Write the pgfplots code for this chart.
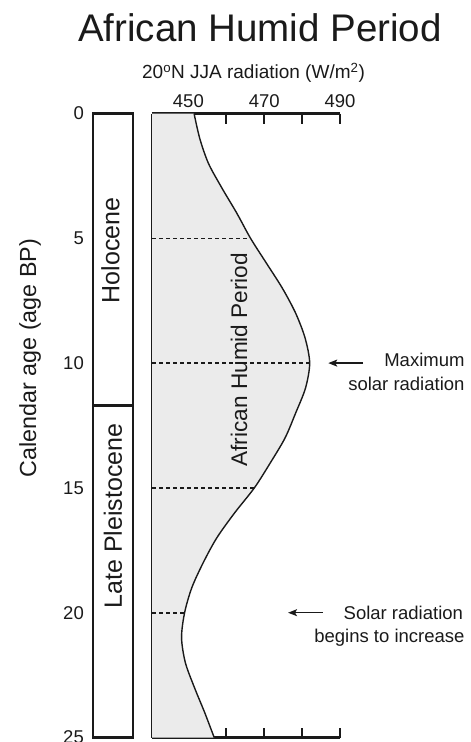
\documentclass[border=0pt]{standalone}
\usepackage{pgfplots}
\pgfplotsset{compat=1.18}
\usetikzlibrary{arrows.meta}
\usepackage{fontspec}
\setmainfont{Liberation Sans}
\definecolor{fillgray}{HTML}{EBEBEB}
\definecolor{ink}{HTML}{1A1A1A}

\begin{document}
\begin{tikzpicture}[x=1pt,y=1pt]
% stratigraphic column
\begin{axis}[
  at={(93pt,4.5pt)}, anchor=south west,
  width=40pt, height=624pt, scale only axis,
  xmin=0, xmax=1, ymin=0, ymax=25, y dir=reverse,
  axis line style={line width=2.3pt, ink},
  xtick=\empty, ytick={0,5,10,15,20,25},
  yticklabels={0,5,10,15,20,25},
  major tick length=0pt,
  yticklabel style={font=\fontsize{18.5}{20}\selectfont, anchor=east, inner sep=0pt, xshift=-9pt, text=ink},
  ylabel={Calendar age (age BP)},
  ylabel style={font=\fontsize{23.3}{26}\selectfont, at={(axis description cs:-1.575,0.608)}, anchor=center, text=ink},
  clip=false,
]
\addplot[line width=2.3pt, ink] coordinates {(0,11.7) (1,11.7)};
\node[rotate=90, anchor=base, inner sep=0pt, font=\fontsize{25}{28}\selectfont, text=ink] at (axis cs:0.66,5.49) {Holocene};
\node[rotate=90, anchor=base, inner sep=0pt, font=\fontsize{25}{28}\selectfont, text=ink] at (axis cs:0.72,16.12) {Late Pleistocene};
\end{axis}

% radiation panel
\begin{axis}[
  at={(152pt,4.5pt)}, anchor=south west,
  width=188pt, height=624pt, scale only axis,
  xmin=440.4, xmax=490, ymin=0, ymax=25, y dir=reverse,
  axis x line*=box, axis y line*=left,
  axis line style={line width=2.3pt, ink},
  xtick={450,460,470,480,490}, xticklabels={450,,470,,490},
  xtick pos=both, xticklabel pos=upper,
  ytick=\empty, minor ytick={1,...,24},
  tick align=inside,
  major tick length=10pt, minor tick length=7pt,
  every tick/.style={line width=2.3pt, ink},
  xticklabel style={font=\fontsize{18.5}{20}\selectfont, inner sep=0pt, anchor=south, yshift=6pt, text=ink},
  clip mode=individual,
]
\addplot[fill=fillgray, draw=none, smooth] coordinates {
 (451.5,0) (453.0,1) (455.3,2) (458.9,3) (462.8,4) (466.4,5) (470.6,6)
 (474.8,7) (478.3,8) (480.8,9) (482.0,10) (480.9,11) (478.3,12) (475.5,13)
 (471.6,14) (467.4,15) (462.2,16) (457.5,17) (453.9,18) (450.9,19) (449.0,20)
 (448.2,21) (449.2,22) (451.6,23) (454.3,24) (456.8,25)
} -- (axis cs:430,25) -- (axis cs:430,0) -- cycle;
\addplot[line width=1.4pt, ink, smooth] coordinates {
 (451.5,0) (453.0,1) (455.3,2) (458.9,3) (462.8,4) (466.4,5) (470.6,6)
 (474.8,7) (478.3,8) (480.8,9) (482.0,10) (480.9,11) (478.3,12) (475.5,13)
 (471.6,14) (467.4,15) (462.2,16) (457.5,17) (453.9,18) (450.9,19) (449.0,20)
 (448.2,21) (449.2,22) (451.6,23) (454.3,24) (456.8,25)
};
\addplot[line width=1.6pt, ink, dash pattern=on 4pt off 3pt] coordinates {(440.4,5) (466.4,5)};
\addplot[line width=1.6pt, ink, dash pattern=on 4pt off 3pt] coordinates {(440.4,10) (482.0,10)};
\addplot[line width=1.6pt, ink, dash pattern=on 4pt off 3pt] coordinates {(440.4,15) (467.4,15)};
\addplot[line width=1.6pt, ink, dash pattern=on 4pt off 3pt] coordinates {(440.4,20) (449.0,20)};
\node[rotate=90, anchor=base, inner sep=0pt, font=\fontsize{22.6}{25}\selectfont, text=ink] at (axis cs:465.5,9.86) {African Humid Period};
\draw[line width=1.4pt, ink, -{Stealth[length=9pt,width=7pt,inset=2pt]}] (axis cs:496.1,10) -- (axis cs:486.9,10);
\draw[line width=1.4pt, ink, -{Stealth[length=9pt,width=7pt,inset=2pt]}] (axis cs:485.5,20) -- (axis cs:476.3,20);
\node[anchor=base east, inner sep=0pt, font=\fontsize{18.5}{20}\selectfont, text=ink] at (axis cs:522.9,10.15) {Maximum};
\node[anchor=base east, inner sep=0pt, font=\fontsize{18.5}{20}\selectfont, text=ink] at (axis cs:522.9,11.08) {solar radiation};
\node[anchor=base east, inner sep=0pt, font=\fontsize{18.5}{20}\selectfont, text=ink] at (axis cs:522.5,20.29) {Solar radiation};
\node[anchor=base east, inner sep=0pt, font=\fontsize{18.5}{20}\selectfont, text=ink] at (axis cs:522.9,21.21) {begins to increase};
\end{axis}

\node[anchor=base, inner sep=0pt, font=\fontsize{38.5}{40}\selectfont, text=ink] at (260pt,700.3pt) {African Humid Period};
\node[anchor=base, inner sep=0pt, font=\fontsize{19}{21}\selectfont, text=ink] at (253.5pt,663pt) {20\textsuperscript{o}N JJA radiation (W/m\textsuperscript{2})};

\pgfresetboundingbox
\useasboundingbox (0pt,0pt) rectangle (471pt,742pt);
\end{tikzpicture}
\end{document}
